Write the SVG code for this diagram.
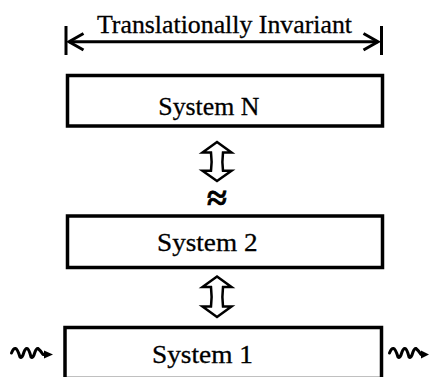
<svg xmlns="http://www.w3.org/2000/svg" width="429" height="377" viewBox="0 0 429 377">
  <style>
    .box { fill: #fff; stroke: #000; stroke-width: 3.5; }
    .lbl { font-family: "Liberation Serif", "Times New Roman", serif; font-size: 25.5px; fill: #000; stroke: #000; stroke-width: 0.3; }
    .dbl { fill: #fff; stroke: #000; stroke-width: 2.5; stroke-linejoin: miter; }
    .line { fill: none; stroke: #000; stroke-width: 3; }
    .wave { fill: none; stroke: #000; stroke-width: 3; stroke-linejoin: round; stroke-linecap: round; }
  </style>
  <rect width="429" height="377" fill="#fff"/>

  <!-- span annotation across the top -->
  <g id="span">
    <text class="lbl" x="97" y="32.5" textLength="255" lengthAdjust="spacingAndGlyphs">Translationally Invariant</text>
    <line class="line" x1="66" y1="26" x2="66" y2="55" stroke-width="2.5"/>
    <line class="line" x1="381.5" y1="26" x2="381.5" y2="55" stroke-width="2.5"/>
    <line class="line" x1="69" y1="41.7" x2="378" y2="41.7"/>
    <polyline class="line" points="83.5,33.5 69,41.7 83.5,50"/>
    <polyline class="line" points="363.5,33.5 378,41.7 363.5,50"/>
  </g>

  <g id="systemN">
    <rect class="box" x="67.5" y="75.5" width="315" height="50.5"/>
    <text class="lbl" x="158.3" y="115" textLength="101" lengthAdjust="spacingAndGlyphs">System N</text>
  </g>

  <g id="system2">
    <rect class="box" x="67.5" y="216" width="315" height="51.5"/>
    <text class="lbl" x="157" y="250.5" textLength="100.5" lengthAdjust="spacingAndGlyphs">System 2</text>
  </g>

  <g id="system1">
    <rect class="box" x="65" y="327.5" width="316.5" height="51"/>
    <text class="lbl" x="152" y="363" textLength="101" lengthAdjust="spacingAndGlyphs">System 1</text>
  </g>

  <g id="connectors">
    <!-- coupling N <-> ... -->
    <path class="dbl" d="M217,142 L231.5,152.5 L223,152.5 Q221.8,161.7 223,170.8 L231.5,170.8 L217,181 L202.5,170.8 L211,170.8 Q212.2,161.7 211,152.5 L202.5,152.5 Z"/>
    <text x="217" y="210" text-anchor="middle" font-family="Liberation Serif, serif" font-weight="bold" font-size="36" stroke="#000" stroke-width="0.8">≈</text>
    <!-- coupling 2 <-> 1 -->
    <path class="dbl" d="M217,276.5 L231.5,287 L223,287 Q221.8,296.7 223,306.5 L231.5,306.5 L217,317 L202.5,306.5 L211,306.5 Q212.2,296.7 211,287 L202.5,287 Z"/>
    <!-- incoming and outgoing waves at System 1 -->
    <path class="wave" d="M11.5,353 Q13.5,348 15.5,348.5 Q17.5,349 20,357 Q22,359 24,352 Q25.5,348 27,348.5 Q29,349 31,357 Q33,359 35,352 Q36.5,348 38,348.5 Q40,350 43,354.5 L46,354.5"/>
    <polygon points="44,350.5 53,354.5 44,358.5" fill="#000"/>
    <path class="wave" d="M389.5,353 Q391.5,348 393.5,348.5 Q395.5,349 398,357 Q400,359 402,352 Q403.5,348 405,348.5 Q407,349 409,357 Q411,359 413,352 Q414.5,348 416,348.5 Q418,350 421,354.5 L424,354.5"/>
    <polygon points="421,350.5 429,354.5 421,358.5" fill="#000"/>
  </g>
</svg>
